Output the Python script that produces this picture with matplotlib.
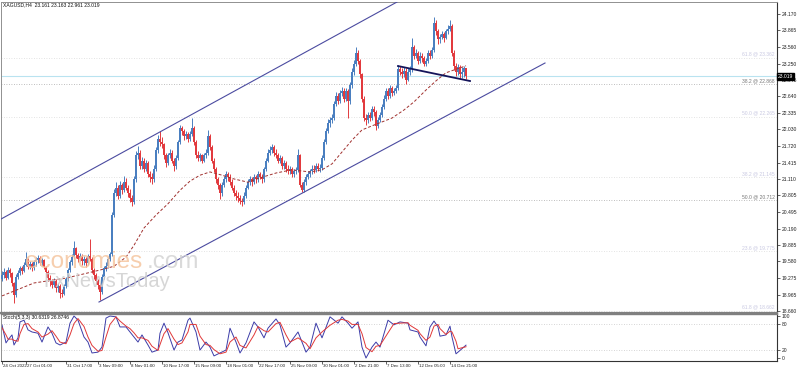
# encoding: utf-8

import numpy as np
import matplotlib
matplotlib.use("Agg")
import matplotlib.pyplot as plt
from matplotlib.transforms import blended_transform_factory

# XAGUSD H4 bars, oldest first (open = previous close)
first_open = 19.25
closes = [
	19.32, 19.38, 19.28, 19.42, 19.36, 19.18, 18.95, 19.30, 19.36, 19.45,
	19.40, 19.52, 19.62, 19.48, 19.53, 19.45, 19.56, 19.60, 19.64, 19.55,
	19.60, 19.48, 19.38, 19.28, 19.22, 19.15, 19.22, 19.08, 19.13, 19.00,
	18.98, 19.12, 19.26, 19.42, 19.56, 19.66, 19.82, 19.70, 19.62, 19.68,
	19.58, 19.63, 19.55, 19.68, 19.62, 19.42, 19.32, 19.22, 19.14, 19.02,
	19.30, 19.45, 19.50, 19.62, 19.72, 20.45, 20.85, 20.95, 20.80, 21.00,
	20.90, 21.05, 20.95, 20.85, 20.75, 20.68, 21.10, 21.55, 21.60, 21.35,
	21.45, 21.30, 21.40, 21.20, 21.15, 21.10, 21.30, 21.65, 21.85, 21.80,
	21.75, 21.55, 21.40, 21.55, 21.60, 21.45, 21.35, 21.50, 21.80, 22.05,
	22.00, 21.90, 21.95, 21.85, 21.95, 22.05, 21.80, 21.55, 21.50, 21.55,
	21.45, 21.55, 21.60, 21.90, 21.70, 21.45, 21.30, 21.10, 21.00, 20.85,
	21.00, 21.10, 21.20, 21.15, 21.05, 20.95, 20.85, 20.80, 20.75, 20.70,
	20.68, 20.80, 20.95, 21.05, 21.10, 21.05, 21.15, 21.10, 21.20, 21.15,
	21.10, 21.30, 21.45, 21.60, 21.65, 21.70, 21.60, 21.55, 21.45, 21.50,
	21.35, 21.40, 21.30, 21.25, 21.30, 21.20, 21.25, 21.28, 21.55, 21.00,
	20.90, 21.05, 21.15, 21.20, 21.25, 21.30, 21.28, 21.35, 21.30, 21.32,
	21.50, 21.80, 22.00, 22.15, 22.20, 22.25, 22.50, 22.65, 22.55, 22.70,
	22.75, 22.60, 22.75, 22.55, 22.85, 23.10, 23.25, 23.45, 23.30, 23.05,
	22.60, 22.25, 22.20, 22.30, 22.25, 22.40, 22.35, 22.10, 22.20, 22.30,
	22.45, 22.60, 22.75, 22.65, 22.80, 22.70, 22.75, 22.80, 23.15, 23.10,
	23.05, 23.12, 22.95, 23.10, 23.15, 23.55, 23.40, 23.45, 23.30, 23.40,
	23.35, 23.25, 23.30, 23.45, 23.40, 23.50, 24.00, 23.85, 23.70, 23.75,
	23.80, 23.72, 23.85, 23.90, 23.95, 23.45, 23.20, 23.10, 23.18, 23.05,
	23.10, 23.161, 23.019,
]
highs = [
	19.40, 19.45, 19.42, 19.48, 19.46, 19.38, 19.20, 19.34, 19.42, 19.50,
	19.50, 19.56, 19.76, 19.64, 19.58, 19.56, 19.60, 19.66, 19.70, 19.68,
	19.65, 19.62, 19.50, 19.42, 19.32, 19.26, 19.28, 19.25, 19.18, 19.16,
	19.06, 19.16, 19.30, 19.46, 19.60, 19.72, 19.96, 19.85, 19.74, 19.74,
	19.72, 19.68, 19.66, 19.72, 20.00, 19.66, 19.46, 19.36, 19.26, 19.18,
	19.34, 19.50, 19.56, 19.66, 19.76, 20.50, 20.92, 21.06, 21.00, 21.08,
	21.04, 21.16, 21.12, 21.00, 20.92, 20.82, 21.16, 21.62, 21.72, 21.64,
	21.52, 21.50, 21.46, 21.44, 21.26, 21.22, 21.36, 21.70, 21.92, 22.00,
	21.88, 21.78, 21.60, 21.60, 21.66, 21.64, 21.50, 21.56, 21.84, 22.12,
	22.10, 22.04, 22.00, 21.98, 22.00, 22.24, 22.10, 21.84, 21.62, 21.60,
	21.58, 21.60, 21.66, 22.02, 21.94, 21.74, 21.50, 21.34, 21.14, 21.04,
	21.06, 21.16, 21.26, 21.24, 21.20, 21.10, 21.00, 20.90, 20.86, 20.82,
	20.76, 20.86, 21.00, 21.10, 21.16, 21.14, 21.20, 21.18, 21.26, 21.24,
	21.20, 21.34, 21.50, 21.66, 21.72, 21.76, 21.74, 21.66, 21.60, 21.56,
	21.54, 21.46, 21.44, 21.36, 21.35, 21.34, 21.30, 21.34, 21.66, 21.58,
	21.06, 21.10, 21.20, 21.26, 21.30, 21.36, 21.36, 21.40, 21.40, 21.38,
	21.56, 21.86, 22.06, 22.22, 22.26, 22.32, 22.56, 22.72, 22.70, 22.76,
	22.82, 22.80, 22.80, 22.78, 22.90, 23.16, 23.32, 23.56, 23.50, 23.34,
	23.08, 22.64, 22.32, 22.36, 22.36, 22.46, 22.46, 22.38, 22.26, 22.36,
	22.50, 22.66, 22.80, 22.80, 22.86, 22.84, 22.80, 22.86, 23.22, 23.20,
	23.16, 23.18, 23.16, 23.16, 23.20, 23.72, 23.60, 23.52, 23.48, 23.46,
	23.44, 23.40, 23.36, 23.50, 23.50, 23.56, 24.12, 24.06, 23.90, 23.80,
	23.86, 23.84, 23.90, 23.96, 24.06, 23.98, 23.50, 23.26, 23.24, 23.22,
	23.18, 23.20, 23.163,
]
lows = [
	19.22, 19.28, 19.24, 19.26, 19.30, 19.12, 18.80, 18.92, 19.26, 19.33,
	19.34, 19.38, 19.50, 19.44, 19.44, 19.40, 19.42, 19.50, 19.55, 19.52,
	19.50, 19.44, 19.30, 19.22, 19.12, 19.08, 19.10, 19.02, 19.02, 18.90,
	18.92, 18.95, 19.08, 19.22, 19.38, 19.52, 19.62, 19.64, 19.56, 19.58,
	19.52, 19.52, 19.48, 19.52, 19.58, 19.36, 19.26, 19.16, 19.06, 18.86,
	18.98, 19.26, 19.40, 19.46, 19.58, 19.68, 20.40, 20.80, 20.74, 20.76,
	20.84, 20.86, 20.90, 20.78, 20.68, 20.60, 20.64, 21.06, 21.48, 21.30,
	21.30, 21.24, 21.26, 21.14, 21.06, 21.02, 21.06, 21.26, 21.60, 21.72,
	21.68, 21.48, 21.34, 21.36, 21.50, 21.40, 21.26, 21.30, 21.46, 21.76,
	21.92, 21.84, 21.86, 21.80, 21.82, 21.90, 21.74, 21.50, 21.44, 21.44,
	21.40, 21.42, 21.50, 21.56, 21.64, 21.40, 21.24, 21.04, 20.92, 20.74,
	20.80, 20.96, 21.06, 21.08, 21.00, 20.90, 20.80, 20.72, 20.68, 20.64,
	20.60, 20.64, 20.76, 20.92, 21.00, 20.98, 21.02, 21.04, 21.06, 21.10,
	21.04, 21.06, 21.26, 21.42, 21.56, 21.60, 21.54, 21.50, 21.40, 21.40,
	21.30, 21.30, 21.24, 21.20, 21.20, 21.14, 21.14, 21.20, 21.24, 20.96,
	20.86, 20.86, 21.00, 21.10, 21.14, 21.20, 21.22, 21.24, 21.26, 21.24,
	21.28, 21.46, 21.76, 21.96, 22.08, 22.14, 22.20, 22.46, 22.50, 22.52,
	22.64, 22.54, 22.56, 22.24, 22.50, 22.80, 23.04, 23.20, 23.24, 22.98,
	22.54, 22.18, 22.12, 22.14, 22.18, 22.20, 22.28, 22.02, 22.06, 22.16,
	22.26, 22.40, 22.56, 22.60, 22.62, 22.64, 22.66, 22.70, 22.76, 23.04,
	22.98, 23.00, 22.88, 22.92, 23.04, 23.10, 23.34, 23.36, 23.24, 23.26,
	23.28, 23.20, 23.20, 23.26, 23.34, 23.36, 23.46, 23.78, 23.62, 23.64,
	23.70, 23.66, 23.70, 23.80, 23.86, 23.40, 23.14, 23.02, 23.04, 22.98,
	22.98, 23.00, 22.961,
]

# dashed moving average (bar index, price)
ma_bar = [0, 16, 32, 49, 56, 62, 66, 71, 77, 83, 89, 94, 99, 104, 110, 116, 123,
	129, 137, 145, 154, 160, 165, 170, 175, 180, 186, 195, 201, 206, 212, 217, 222, 232]
ma_val = [18.94, 19.18, 19.27, 19.42, 19.49, 19.66, 19.88, 20.20, 20.44, 20.65, 20.90,
	21.07, 21.18, 21.24, 21.18, 21.11, 21.05, 21.13, 21.22, 21.28, 21.24, 21.28, 21.39,
	21.61, 21.83, 22.02, 22.11, 22.24, 22.39, 22.54, 22.76, 22.93, 23.08, 23.21]

# stochastic (5,3,3): main (blue) and signal (red)
st_bar = [0, 2, 3, 5, 6, 8, 9, 11, 13, 15, 18, 20, 23, 25, 27, 29, 32, 34, 36, 38,
	41, 43, 45, 48, 50, 52, 54, 57, 59, 62, 64, 66, 68, 70, 73, 75, 78, 79, 81, 83,
	86, 88, 90, 93, 94, 97, 99, 102, 104, 106, 109, 112, 114, 117, 119, 122, 126, 128, 131, 133,
	137, 139, 142, 144, 148, 152, 154, 157, 160, 164, 168, 170, 173, 175, 178, 180, 182, 185, 187, 189,
	193, 196, 199, 203, 204, 208, 209, 212, 214, 216, 218, 219, 222, 224, 225, 227, 228, 232]
st_k = [79, 36, 43, 55, 31, 48, 86, 90, 67, 62, 59, 38, 74, 59, 36, 31, 38, 83, 100, 90,
	50, 38, 12, 14, 26, 95, 100, 98, 74, 74, 62, 50, 38, 55, 31, 14, 19, 59, 83, 60,
	19, 38, 43, 90, 95, 62, 19, 38, 26, 5, 12, 19, 71, 38, 12, 36, 86, 74, 48, 71,
	93, 79, 26, 36, 62, 14, 26, 83, 48, 98, 83, 98, 83, 71, 86, 26, 0, 26, 38, 26,
	90, 79, 86, 83, 67, 62, 50, 29, 74, 88, 74, 52, 55, 76, 50, 10, 14, 30.63]
st_d = [72, 55, 45, 45, 42, 40, 58, 80, 82, 70, 62, 50, 57, 65, 52, 38, 34, 55, 82, 94,
	75, 50, 30, 16, 18, 50, 80, 98, 88, 76, 70, 60, 48, 48, 42, 28, 18, 32, 58, 70,
	45, 32, 36, 62, 80, 80, 52, 32, 30, 20, 10, 14, 38, 50, 30, 24, 55, 75, 65, 62,
	82, 85, 55, 38, 48, 35, 22, 48, 62, 78, 90, 92, 88, 80, 80, 58, 25, 15, 28, 30,
	60, 82, 83, 84, 78, 66, 58, 42, 50, 76, 80, 70, 56, 64, 62, 40, 22, 26.87]

# trend lines drawn on the chart: (bar, price) end points
upper_chan = [(-1.0, 20.356), (197.5, 24.393)]
lower_chan = [(48.5, 18.827), (271.5, 23.261)]
short_line = [(198.0, 23.205), (234.0, 22.927)]

# fibonacci levels shown on the right
fib_price = [23.362, 22.868, 22.265, 21.145, 20.712, 19.775, 18.662]
fib_label = ["61.8 @ 23.362", "38.2 @ 22.868", "50.0 @ 22.265", "38.2 @ 21.145",
	"50.0 @ 20.712", "23.6 @ 19.775", "61.8 @ 18.662"]
fib_dark = [False, True, False, False, True, False, False]

price_ticks = [24.170, 23.865, 23.560, 23.250, 22.945, 22.640, 22.335, 22.030, 21.720,
	21.415, 21.110, 20.805, 20.495, 20.190, 19.885, 19.580, 19.275, 18.965, 18.660]
last_price = 23.019

date_pos = [0, 12, 32, 48, 64, 80, 96, 112, 128, 144, 160, 176, 192, 208, 224]
date_labels = ["24 Oct 2022", "27 Oct 01:00", "31 Oct 17:00", "3 Nov 09:00", "8 Nov 01:00",
	"10 Nov 17:00", "15 Nov 09:00", "18 Nov 01:00", "22 Nov 17:00", "25 Nov 09:00",
	"30 Nov 01:00", "2 Dec 21:00", "7 Dec 13:00", "12 Dec 05:00", "14 Dec 21:00"]

W, H = 798, 372
UP = "#4a7fc0"
DOWN = "#e23a3e"
FS = 3.6
FS_DATE = 3.2

plt.rcParams["font.family"] = ["Liberation Sans", "DejaVu Sans"]
fig = plt.figure(figsize=(W / 100.0, H / 100.0), dpi=100)
fig.patch.set_facecolor("white")

ax = fig.add_axes([1.0 / W, 1 - 313.0 / H, 776.0 / W, 311.0 / H])
ax2 = fig.add_axes([1.0 / W, 1 - 361.0 / H, 776.0 / W, 47.0 / H])

n = len(closes)
idx = np.arange(n)
opens = np.array([first_open] + closes[:-1])
cl = np.array(closes)
up = cl >= opens
colors = np.where(up, UP, DOWN)

# candles
ax.vlines(idx, lows, highs, colors=colors, linewidth=0.7, zorder=3)
body_lo = np.minimum(opens, cl)
body_h = np.maximum(np.abs(cl - opens), 0.012)
ax.bar(idx, body_h, bottom=body_lo, width=0.9, color=colors, linewidth=0, zorder=3)

# moving average
ax.plot(ma_bar, ma_val, color="#a0302e", lw=0.7, dashes=(3, 2), zorder=4)

# fibonacci levels
tr = blended_transform_factory(ax.transAxes, ax.transData)
for p, lab, dark in zip(fib_price, fib_label, fib_dark):
	c = "#a8a8a8" if dark else "#dadada"
	ax.axhline(p, color=c, lw=0.6, linestyle=(0, (1, 2)), zorder=1)
	ax.text(0.997, p + 0.02, lab, transform=tr, ha="right", va="bottom",
		fontsize=FS, color="#777777" if dark else "#c9c9e2")

# current price line
ax.axhline(last_price, color="#b9e3f0", lw=0.8, zorder=2)

# channel and trend lines
for line, c, w in [(upper_chan, "#4b4ba0", 0.8), (lower_chan, "#4b4ba0", 0.8),
	(short_line, "#14145a", 1.3)]:
	xs, ys = zip(*line)
	ax.plot(xs, ys, color=c, lw=w, zorder=5)

ax.set_xlim(-0.5, 387.5)
ax.set_ylim(18.623, 24.393)
ax.yaxis.tick_right()
ax.set_yticks(price_ticks)
ax.set_yticklabels(["%.3f" % v for v in price_ticks])
ax.tick_params(axis="y", labelsize=FS, length=2, pad=1.2, width=0.5, colors="#222222")
ax.set_xticks([])
for s in ["top", "left"]:
	ax.spines[s].set_color("#909090")
	ax.spines[s].set_linewidth(0.7)
ax.spines["right"].set_color("#333333")
ax.spines["right"].set_linewidth(0.8)
ax.spines["bottom"].set_color("#808080")
ax.spines["bottom"].set_linewidth(1.6)

# last price box on the axis
ax.text(1.001, last_price, "%.3f" % last_price, transform=tr, ha="left", va="center",
	fontsize=FS, color="white", zorder=10,
	bbox=dict(boxstyle="square,pad=0.2", fc="black", ec="black"))

# stochastic panel
ax2.axhline(80, color="#c8c8c8", lw=0.6, linestyle=(0, (1, 2)))
ax2.axhline(20, color="#c8c8c8", lw=0.6, linestyle=(0, (1, 2)))
ax2.plot(st_bar, st_k, color="#3c3ca8", lw=0.7)
ax2.plot(st_bar, st_d, color="#e03838", lw=0.7)
ax2.set_xlim(-0.5, 387.5)
ax2.set_ylim(-7.1, 104.8)
ax2.yaxis.tick_right()
ax2.set_yticks([100, 80, 20, 0])
ax2.tick_params(axis="y", labelsize=FS, length=2, pad=1.2, width=0.5, colors="#222222")
ax2.set_xticks(date_pos)
ax2.set_xticklabels([])
ax2.tick_params(axis="x", length=2, width=0.5, direction="out", colors="#222222")
ax2.spines["left"].set_color("#909090")
ax2.spines["left"].set_linewidth(0.7)
ax2.spines["top"].set_color("#808080")
ax2.spines["top"].set_linewidth(1.0)
ax2.spines["right"].set_color("#333333")
ax2.spines["right"].set_linewidth(0.8)
ax2.spines["bottom"].set_color("#333333")
ax2.spines["bottom"].set_linewidth(0.8)

trx = blended_transform_factory(ax2.transData, fig.transFigure)
for p, lab in zip(date_pos, date_labels):
	ax2.text(p + 0.6, 1 - 366.0 / H, lab, transform=trx, ha="left", va="center",
		fontsize=FS_DATE, color="#222222", clip_on=False)

# labels in the panels
fig.text(3.0 / W, 1 - 5.0 / H, "XAGUSD,H4  23.161 23.163 22.961 23.019",
	fontsize=FS, color="#111111", va="center")
fig.text(3.0 / W, 1 - 317.5 / H, "Stoch(5,3,3) 30.6319 26.8746",
	fontsize=FS, color="#111111", va="center")

# watermark
fig.text(25.0 / W, 1 - 268.0 / H, "economies", fontsize=17.5, family="Liberation Sans",
	color="#f5c6a0", alpha=0.85, zorder=20)
fig.text(147.0 / W, 1 - 268.0 / H, ".com", fontsize=17.5, family="Liberation Sans",
	color="#d4d4d4", alpha=0.85, zorder=20)
fig.text(43.0 / W, 1 - 287.0 / H, "FxNewsToday", fontsize=14.5, family="Liberation Sans",
	color="#cfcfcf", alpha=0.85, zorder=20)

fig.savefig("out.png", dpi=100)
